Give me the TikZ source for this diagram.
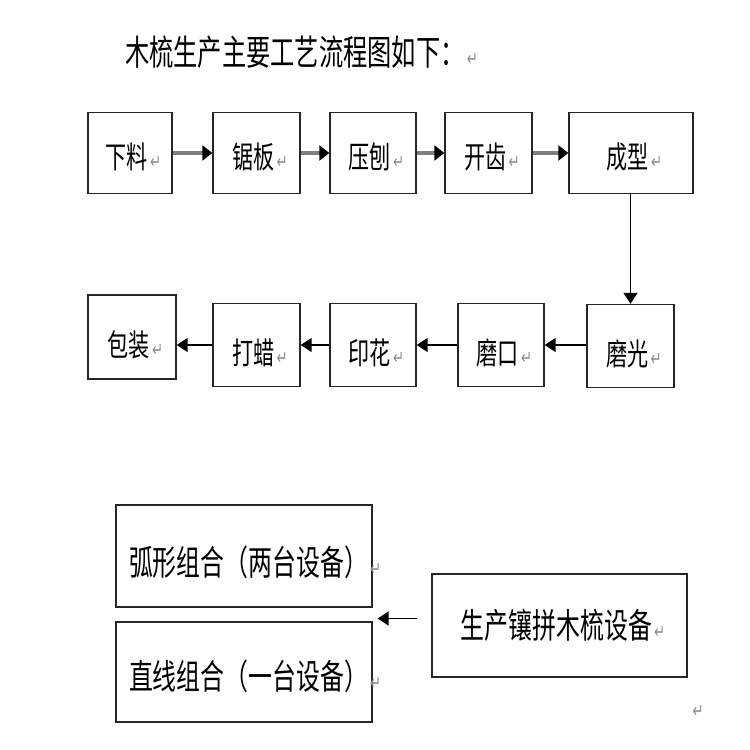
\documentclass[tikz,border=0pt]{standalone}
\usepackage{fontspec}
\setmainfont{Noto Sans CJK SC}
\newfontfamily\markfont{DejaVu Sans}
\usepackage{tikz}
\usetikzlibrary{calc}
\usetikzlibrary{arrows.meta}
\newcommand\pmark[0]{{\markfont\fontsize{7.5}{8}\selectfont\color{black!45}\,↵}}
\newcommand\tall[1]{\scalebox{1}[1.45]{#1}}
\newcommand\boxtext[1]{\hspace*{0.14cm}\tall{#1}}

\begin{document}
\begin{tikzpicture}[x=0.02cm,y=-0.02cm,
  stepbox/.style={draw=black!85,line width=0.8pt,inner sep=1pt,
    font=\fontsize{12}{14}\selectfont,minimum width=1.74cm,minimum height=1.66cm,
    text height=0.7cm,text depth=0.06cm},
  lowrow/.style={text height=0.84cm},
  widebox/.style={draw=black!85,line width=0.8pt,inner sep=1pt,
    font=\fontsize{13.6}{15}\selectfont,minimum width=5.12cm,minimum height=2.02cm},
  leftbox/.style={widebox,inner xsep=0pt,text width=5.12cm,align=left,
    text height=0.86cm,text depth=0.07cm},
  grayarrow/.style={draw=black!50,line width=2.2pt,-{Triangle[black,length=0.2cm,width=0.3cm]}},
  thinarrow/.style={draw=black,line width=0.9pt,-{Triangle[length=0.22cm,width=0.28cm]}}]

\useasboundingbox (0,0) rectangle (750,750);

\node[anchor=west,font=\fontsize{13.8}{17}\selectfont] (title) at (119,52) {\tall{木梳生产主要工艺流程图如下：\pmark}};

% first row
\node[stepbox,minimum width=1.68cm,minimum height=1.62cm] (xialiao) at (130,153) {\boxtext{下料\pmark}};
\node[stepbox,minimum height=1.62cm] (juban) at (256.5,153) {\boxtext{锯板\pmark}};
\node[stepbox,minimum width=1.72cm,minimum height=1.62cm] (yabao) at (373,153) {\boxtext{压刨\pmark}};
\node[stepbox,minimum height=1.62cm] (kaichi) at (488.5,153) {\boxtext{开齿\pmark}};
\node[stepbox,minimum width=2.48cm,minimum height=1.62cm] (chengxing) at (631,153) {\boxtext{成型\pmark}};

\draw[grayarrow] (xialiao) -- (juban);
\draw[grayarrow] (juban) -- (yabao);
\draw[grayarrow] (yabao) -- (kaichi);
\draw[grayarrow] (kaichi) -- (chengxing);

% second row
\node[stepbox,lowrow] (moguang) at (630.5,346) {\boxtext{磨光\pmark}};
\node[stepbox,lowrow,minimum width=1.72cm] (mokou) at (501,345) {\boxtext{磨口\pmark}};
\node[stepbox,lowrow,minimum width=1.72cm] (yinhua) at (373,345) {\boxtext{印花\pmark}};
\node[stepbox,lowrow] (dala) at (256.5,345) {\boxtext{打蜡\pmark}};
\node[stepbox,lowrow,minimum width=1.76cm,minimum height=1.68cm] (baozhuang) at (132,337) {\boxtext{包装\pmark}};

\draw[thinarrow] (chengxing.south -| moguang.north) -- (moguang.north);
\draw[thinarrow] (moguang.west |- mokou) -- (mokou);
\draw[thinarrow] (mokou) -- (yinhua);
\draw[thinarrow] (yinhua) -- (dala);
\draw[thinarrow] (dala) -- (baozhuang.east |- dala);

% equipment
\node[leftbox,minimum height=2.04cm] (huxing) at (244,556) {\hspace*{0.26cm}\tall{弧形组合（两台设备）\pmark}};
\node[leftbox,minimum height=2.0cm,text height=0.76cm] (zhixian) at (244,672) {\hspace*{0.26cm}\tall{直线组合（一台设备）\pmark}};
\node[widebox,minimum width=5.1cm,minimum height=2.06cm] (xiangpin) at (559.5,625.5) {\boxtext{生产镶拼木梳设备\pmark}};
\coordinate (gap) at ($(huxing.south east)!0.5!(zhixian.north east)+(0,4)$);
\draw[thinarrow,shorten <=0.28cm,shorten >=0.1cm] (xiangpin.west |- gap) -- (gap);

\node (endmark) at (697,712) {\tall{\pmark}};
\end{tikzpicture}
\end{document}
